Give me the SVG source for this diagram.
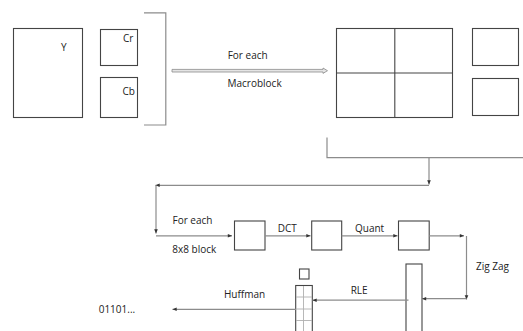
<svg xmlns="http://www.w3.org/2000/svg" width="523" height="331" viewBox="0 0 523 331">
<defs>
<style>
.box{fill:#fff;stroke:#444;stroke-width:1.1}
.grid{fill:none;stroke:#b0b0b0;stroke-width:0.9}
.ln{fill:none;stroke:#8c8c8c;stroke-width:1.2}
.ar{marker-end:url(#ah)}
text{font-family:"Open Sans","Liberation Sans",sans-serif;font-size:10px;fill:#222}
</style>
<marker id="ah" markerUnits="userSpaceOnUse" markerWidth="6" markerHeight="6" viewBox="0 0 6 6" refX="5" refY="3" orient="auto">
<path d="M0.8,1.2 L5,3 L0.8,4.8 Z" fill="#333"/>
</marker>
</defs>
<rect width="523" height="331" fill="#fff"/>

<g id="Y"><rect class="box" x="13.5" y="28.5" width="69" height="89"/><text x="61" y="51">Y</text></g>
<g id="Cr"><rect class="box" x="100.5" y="29.5" width="37" height="36"/><text x="123" y="41.5">Cr</text></g>
<g id="Cb"><rect class="box" x="100.5" y="77.5" width="37" height="40"/><text x="122.5" y="94.5">Cb</text></g>
<g id="bracket"><path d="M144,12.8 H165.8 V125 H144" fill="none" stroke="#8c8c8c" stroke-width="1.2"/></g>

<g id="macroblock">
<rect class="box" x="336.5" y="28.5" width="116" height="89"/>
<line x1="394.8" y1="28.5" x2="394.8" y2="117.5" stroke="#444" stroke-width="1.1"/>
<line x1="336.5" y1="73" x2="452.5" y2="73" stroke="#444" stroke-width="1.1"/>
</g>
<g id="mb-cr"><rect class="box" x="472.5" y="28.5" width="46" height="37"/></g>
<g id="mb-cb"><rect class="box" x="472.5" y="78.5" width="46" height="37"/></g>

<g id="block1"><rect class="box" x="234.5" y="221" width="30.5" height="29"/></g>
<g id="block2"><rect class="box" x="311.7" y="221" width="30" height="29"/></g>
<g id="block3"><rect class="box" x="398.5" y="221" width="30.7" height="29"/></g>
<g id="zigzag-vector"><rect class="box" x="406" y="264" width="16" height="75"/></g>
<g id="rle-column">
<rect class="box" x="295.7" y="285.5" width="16.6" height="55"/>
<line class="grid" x1="303.5" y1="286" x2="303.5" y2="331"/>
<line class="grid" x1="296" y1="297" x2="312" y2="297"/>
<line class="grid" x1="296" y1="309" x2="312" y2="309"/>
<line class="grid" x1="296" y1="320.5" x2="312" y2="320.5"/>
</g>
<g id="small-square"><rect class="box" x="299.5" y="269" width="9.5" height="10"/></g>

<g id="connectors">
<path d="M172,69.4 H323 V68 L327.5,70.7 L323,73.4 V72 H172 Z" fill="#e4e4e4" stroke="#8a8a8a" stroke-width="0.8"/>
<path class="ln" d="M327,137.5 V157.7 H523"/>
<path class="ln ar" d="M429,157.7 V184.5"/>
<path class="ln ar" d="M429,185.3 H155.5"/>
<path class="ln ar" d="M156,185.3 V233.5"/>
<path class="ln ar" d="M156,235.8 H232"/>
<path class="ln ar" d="M265,235.8 H310.5"/>
<path class="ln ar" d="M341.7,235.8 H397.5"/>
<path class="ln ar" d="M429.2,235.8 H464"/>
<path class="ln ar" d="M466.5,236 V299.5"/>
<path class="ln ar" d="M466.5,298.7 H422"/>
<path class="ln ar" d="M408.5,300.2 H312.5"/>
<path class="ln ar" d="M296,309.3 H172.5"/>
</g>

<g id="labels">
<text x="227.7" y="59">For each</text>
<text x="227.5" y="87">Macroblock</text>
<text x="172.5" y="224">For each</text>
<text x="172.3" y="252.5">8x8 block</text>
<text x="277.7" y="231.5">DCT</text>
<text x="355" y="231.5">Quant</text>
<text x="476" y="270">Zig Zag</text>
<text x="350.7" y="294">RLE</text>
<text x="224" y="297.5">Huffman</text>
<text x="98.7" y="312.5">01101...</text>
</g>
</svg>
